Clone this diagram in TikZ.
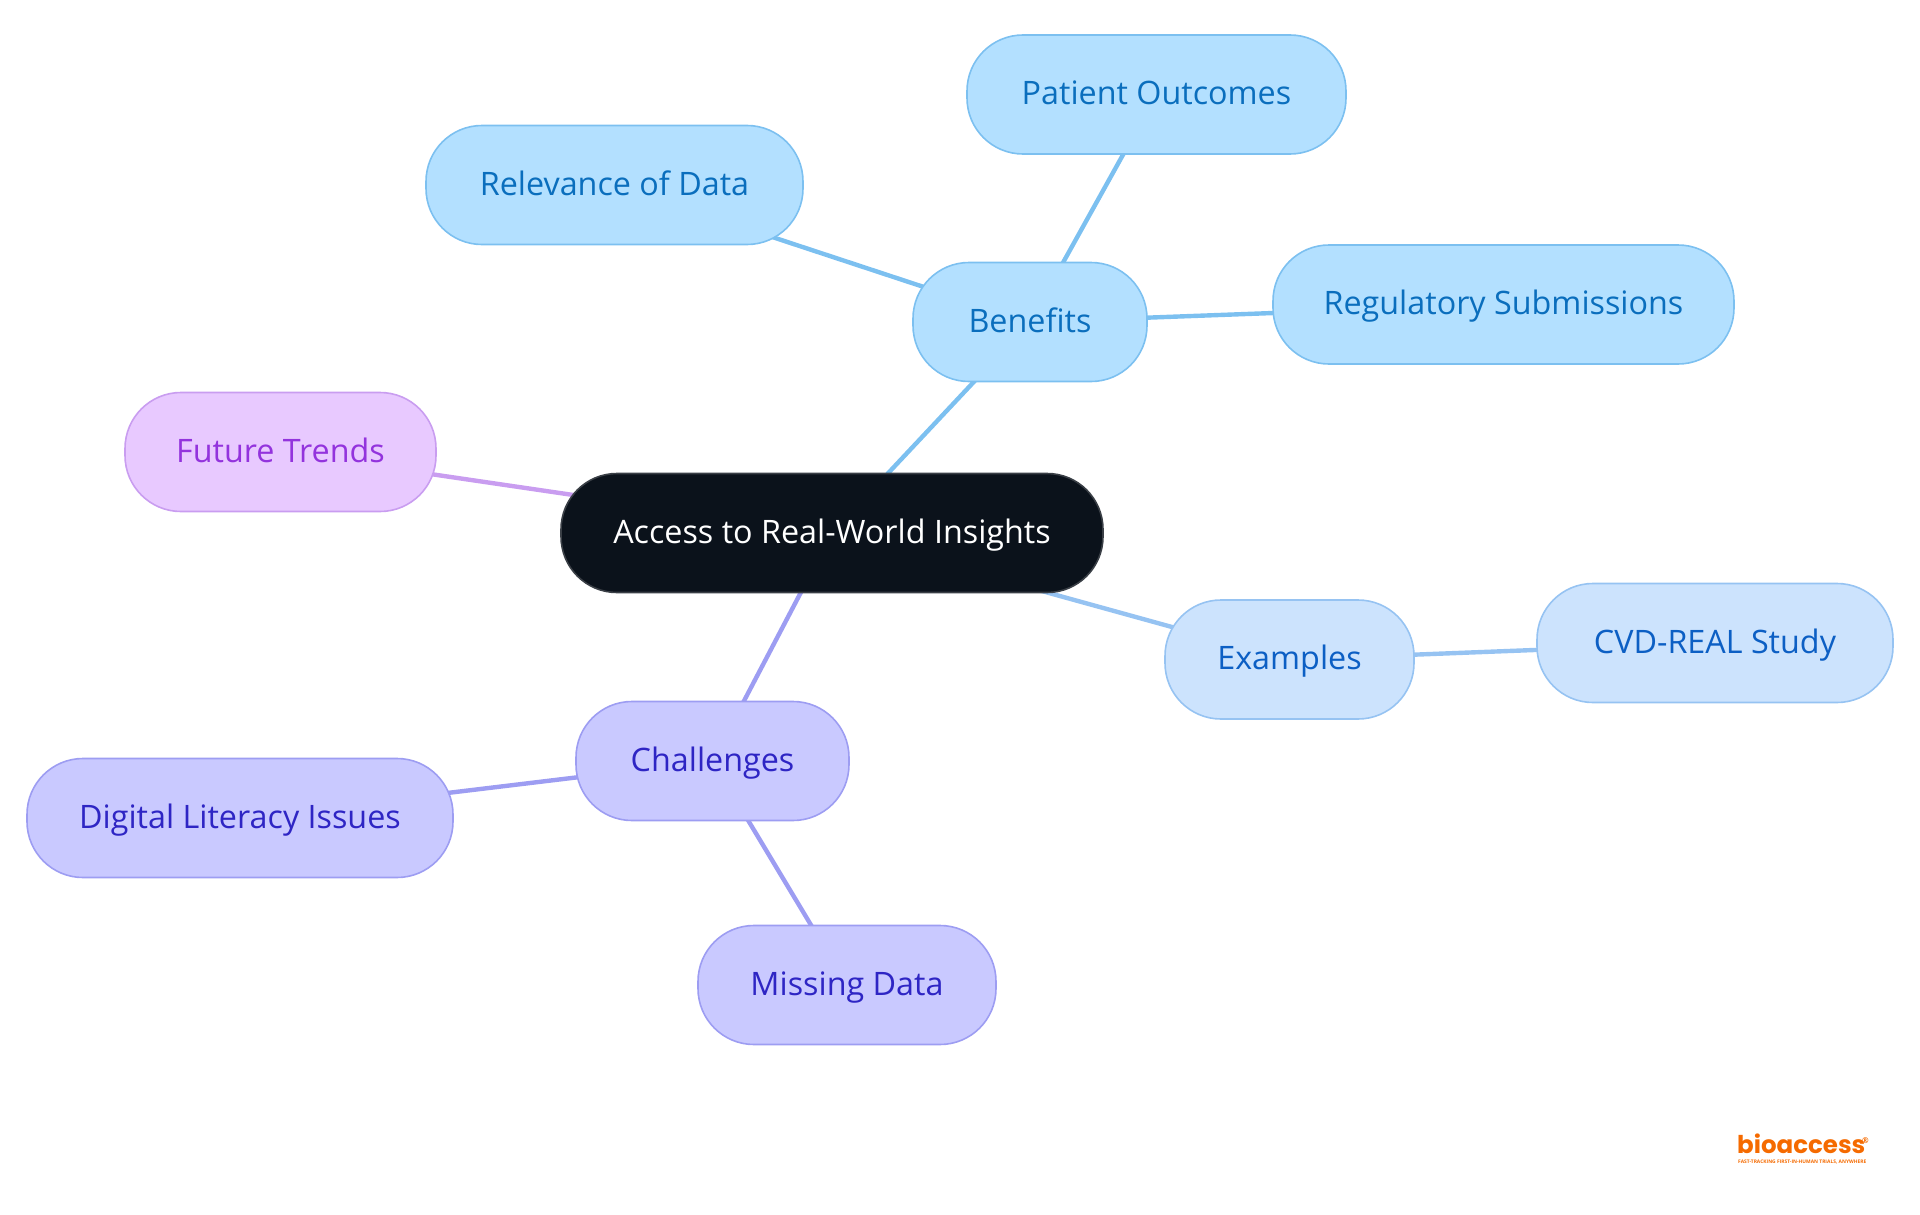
\documentclass[tikz,border=0pt]{standalone}
\usepackage{fontspec}
\setmainfont{Open Sans}[BoldFont=* Bold]
\newfontfamily\logofont{Poppins}[UprightFont=* Bold]
\usetikzlibrary{backgrounds}
\definecolor{bfill}{HTML}{B3E0FF}\definecolor{bline}{HTML}{7CC0F0}\definecolor{btext}{HTML}{0A6EBD}
\definecolor{efill}{HTML}{CCE3FD}\definecolor{eline}{HTML}{96C3F2}\definecolor{etext}{HTML}{0C5FC4}
\definecolor{cfill}{HTML}{C9C9FF}\definecolor{cline}{HTML}{9D9DF2}\definecolor{ctext}{HTML}{2E25C4}
\definecolor{ffill}{HTML}{E8C9FF}\definecolor{fline}{HTML}{C99DF0}\definecolor{ftext}{HTML}{9333DD}
\definecolor{rfill}{HTML}{0B121B}\definecolor{rline}{HTML}{3A3F46}\definecolor{logoc}{HTML}{F56A00}
\tikzset{
 x=1pt,y=-1pt,
 box/.style={rectangle,rounded corners=56pt,line width=1.6pt,inner sep=0pt,outer sep=0pt,minimum height=119pt,
   text height=23pt,text depth=3pt,font=\fontsize{32.3}{38}\selectfont},
 bbox/.style={box,draw=bline,fill=bfill,text=btext},
 ebox/.style={box,draw=eline,fill=efill,text=etext},
 cbox/.style={box,draw=cline,fill=cfill,text=ctext},
 fbox/.style={box,draw=fline,fill=ffill,text=ftext},
 rbox/.style={box,draw=rline,fill=rfill,text=white},
 link/.style={line width=4.4pt}
}
\begin{document}
\begin{tikzpicture}
\useasboundingbox (0,0) rectangle (1920,1215);
\node[rbox,minimum width=542pt] (root) at (832,533) {Access to Real-World Insights};
\node[bbox,minimum width=234pt] (ben) at (1030,322) {Benefits};
\node[bbox,minimum width=379pt] (pat) at (1156.5,94.5) {Patient Outcomes};
\node[bbox,minimum width=377pt] (rel) at (614.5,185) {Relevance of Data};
\node[bbox,minimum width=461pt] (reg) at (1503.5,304.5) {Regulatory Submissions};
\node[fbox,minimum width=311pt] (fut) at (280.5,452) {Future Trends};
\node[ebox,minimum width=249pt] (exa) at (1289.5,659.5) {Examples};
\node[ebox,minimum width=356pt] (cvd) at (1715,643) {CVD-REAL Study};
\node[cbox,minimum width=273pt] (cha) at (712.5,761) {Challenges};
\node[cbox,minimum width=426pt] (dig) at (240,818) {Digital Literacy Issues};
\node[cbox,minimum width=298pt] (mis) at (847,985) {Missing Data};
\begin{scope}[on background layer]
\draw[link,bline] (root.center)--(ben.center);
\draw[link,bline] (ben.center)--(pat.center);
\draw[link,bline] (ben.center)--(rel.center);
\draw[link,bline] (ben.center)--(reg.center);
\draw[link,fline] (root.center)--(fut.center);
\draw[link,eline] (root.center)--(exa.center);
\draw[link,eline] (exa.center)--(cvd.center);
\draw[link,cline] (root.center)--(cha.center);
\draw[link,cline] (cha.center)--(dig.center);
\draw[link,cline] (cha.center)--(mis.center);
\end{scope}
\node[inner sep=0pt,text=logoc,text height=20pt,text depth=0pt,anchor=base west,font=\logofont\fontsize{24.5}{25}\selectfont] (logo) at (1737,1153) {bioaccess};
\node[inner sep=0pt,text=logoc,text height=3pt,text depth=0pt,font=\fontsize{4.9}{5}\selectfont\bfseries,anchor=base west] (tag) at (1738,1163.5) {FAST-TRACKING FIRST-IN-HUMAN TRIALS, ANYWHERE};
\node[inner sep=0pt,text=logoc,text height=5pt,text depth=0pt,font=\fontsize{8}{8}\selectfont\bfseries,anchor=base west] (regm) at (1862,1143) {®};
\end{tikzpicture}
\end{document}
